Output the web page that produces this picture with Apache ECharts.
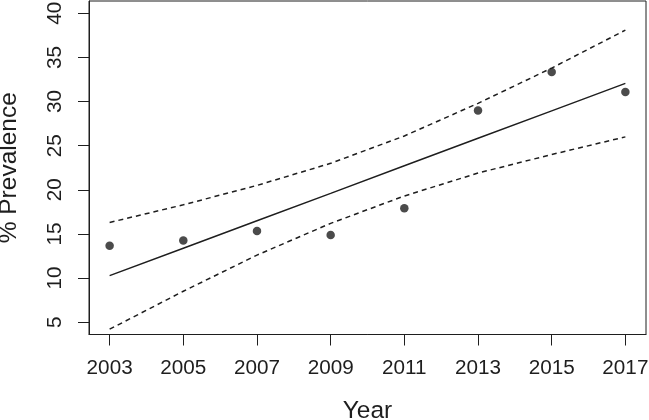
<!DOCTYPE html>
<html>
<head>
<meta charset="utf-8">
<script src="https://cdn.jsdelivr.net/npm/echarts@6/dist/echarts.min.js"></script>
<style>
html,body{margin:0;padding:0;background:#fff;}
#chart{width:649px;height:420px;}
</style>
</head>
<body>
<div id="chart"></div>
<script>
// Data
var years = [2003, 2005, 2007, 2009, 2011, 2013, 2015, 2017];
var prevalence = [13.65, 14.25, 15.34, 14.89, 17.90, 28.99, 33.35, 31.09];
var fitLine = [10.27, 13.38, 16.49, 19.60, 22.73, 25.84, 28.95, 32.06];
var upperBand = [16.3, 18.3, 20.5, 23.0, 26.1, 29.8, 33.8, 38.1];
var lowerBand = [4.2, 8.5, 12.6, 16.2, 19.3, 21.9, 24.0, 26.0];
var xTicks = [2003, 2005, 2007, 2009, 2011, 2013, 2015, 2017];
var yTicks = [5, 10, 15, 20, 25, 30, 35, 40];

function pairs(vals) {
  return years.map(function (y, i) { return [y, vals[i]]; });
}

var FONT = 'Liberation Sans, Arial, Helvetica, sans-serif';
var INK = '#1e1e1e';

var chart = echarts.init(document.getElementById('chart'), null, {renderer: 'canvas'});
chart.setOption({
  animation: false,
  backgroundColor: '#ffffff',
  grid: {
    left: 89, right: 3, top: 1, bottom: 85.5,
    containLabel: false,
    outerBoundsMode: 'none',
    show: true, borderColor: INK, borderWidth: 1, backgroundColor: 'transparent'
  },
  xAxis: {
    type: 'value',
    min: 2002.44, max: 2017.56,
    name: 'Year',
    nameLocation: 'middle',
    nameGap: 64,
    nameTextStyle: {fontFamily: FONT, fontSize: 24.5, color: INK},
    axisLine: {show: true, onZero: false, lineStyle: {color: INK, width: 1}},
    axisTick: {show: true, length: 11, customValues: xTicks, lineStyle: {color: INK, width: 1}},
    axisLabel: {customValues: xTicks, margin: 23, fontFamily: FONT, fontSize: 20.7, color: INK,
      formatter: function (v) { return String(v); }},
    splitLine: {show: false}
  },
  yAxis: {
    type: 'value',
    min: 3.6, max: 41.4,
    name: '% Prevalence',
    nameLocation: 'middle',
    nameGap: 67,
    nameRotate: 90,
    nameTextStyle: {fontFamily: FONT, fontSize: 24.5, color: INK},
    axisLine: {show: true, onZero: false, lineStyle: {color: INK, width: 1}},
    axisTick: {show: true, length: 11, customValues: yTicks, lineStyle: {color: INK, width: 1}},
    axisLabel: {customValues: yTicks, margin: 23, rotate: 90, fontFamily: FONT, fontSize: 20.7, color: INK},
    splitLine: {show: false}
  },
  series: [
    {
      type: 'line', data: pairs(upperBand), symbol: 'none', silent: true,
      lineStyle: {color: INK, width: 1.5, type: [5, 4]}
    },
    {
      type: 'line', data: pairs(lowerBand), symbol: 'none', silent: true,
      lineStyle: {color: INK, width: 1.5, type: [5, 4]}
    },
    {
      type: 'line', data: pairs(fitLine), symbol: 'none', silent: true,
      lineStyle: {color: INK, width: 1.5, type: 'solid'}
    },
    {
      type: 'scatter', data: pairs(prevalence), symbol: 'circle', symbolSize: 8.5,
      itemStyle: {color: INK}
    }
  ]
});
</script>
</body>
</html>
